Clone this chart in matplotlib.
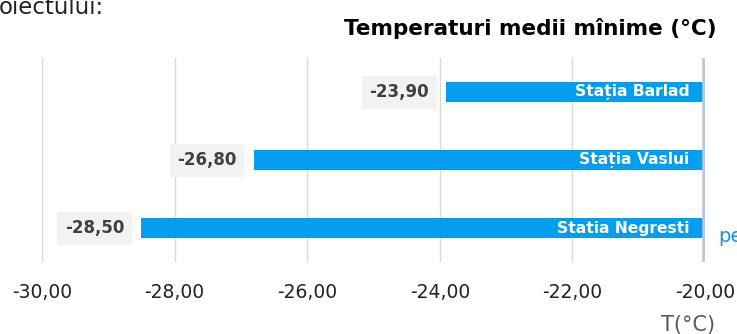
import matplotlib
matplotlib.use("Agg")
import matplotlib.pyplot as plt

# data
stations = ["Statia Negresti", "Stația Vaslui", "Stația Barlad"]
values = [-28.50, -26.80, -23.90]
x_ticks = [-30, -28, -26, -24, -22, -20]

BAR = "#049EEE"
plt.rcParams["font.family"] = ["DejaVu Sans"]

fig = plt.figure(figsize=(7.37, 3.34), dpi=100)
ax = fig.add_axes([42 / 737, 1 - 262 / 334, (705 - 42) / 737, 204 / 334])

ypos = list(range(len(stations)))
ax.barh(ypos, [-20 - v for v in values], left=values, height=0.29,
        color=BAR, zorder=3)

for y, v, name in zip(ypos, values, stations):
    lbl = f"{v:.2f}".replace(".", ",")
    ax.annotate(lbl, (v, y), xytext=(-12.5, 0), textcoords="offset points",
                ha="right", va="center", fontsize=12, fontweight="bold",
                color="#404040", zorder=4,
                bbox=dict(boxstyle="square,pad=0.45", fc="#f2f2f2", ec="none"))
    ax.annotate(name, (-20, y), xytext=(-11, 0), textcoords="offset points",
                ha="right", va="center", fontsize=11.2, fontweight="bold",
                color="white", zorder=4)

ax.set_xlim(-30, -20)
ax.set_ylim(-0.5, len(stations) - 0.5)
ax.set_xticks(x_ticks)
ax.set_xticklabels([f"{t:.2f}".replace(".", ",") for t in x_ticks],
                   fontsize=13.5, color="#222222")
ax.tick_params(axis="x", length=0, pad=15)
ax.set_yticks([])
for s in ax.spines.values():
    s.set_visible(False)
ax.grid(axis="x", color="#d9d9d9", lw=1, zorder=0)
# thick pale axis line at -20
ax.axvline(-20, color="#bcc7d6", lw=4, zorder=5)
ax.axvline(-20, color="#98a6ba", lw=0.7, zorder=6)

fig.text(688 / 737, 1 - 325 / 334, "T(°C)", ha="center", va="center",
         fontsize=15, color="#595959")

fig.text(717 / 737, 1 - 35 / 334, "Temperaturi medii mînime (°C)",
         ha="right", va="baseline", fontsize=15.5, fontweight="bold", color="black")
fig.text(-1 / 737, 1 - 14 / 334, "oiectului:", ha="left", va="baseline",
         fontsize=16.5, color="#222222")
fig.text(718 / 737, 1 - 242 / 334, "pe", ha="left", va="baseline",
         fontsize=14, color="#1a90df")

fig.savefig("out.png", dpi=100)
